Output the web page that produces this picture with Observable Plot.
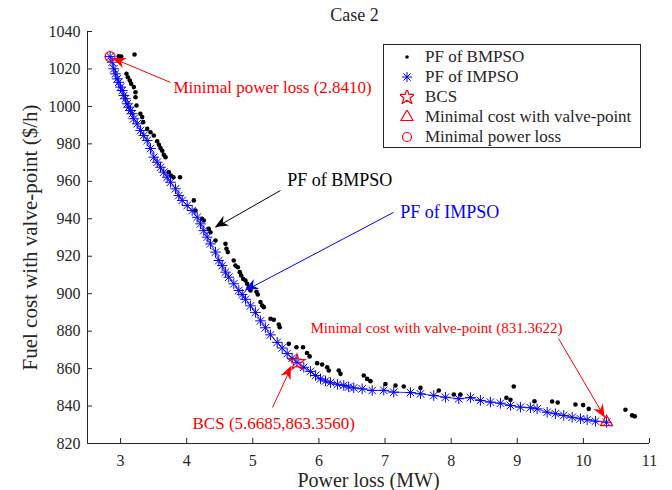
<!DOCTYPE html>
<html>
<head>
<meta charset="utf-8">
<script src="https://cdn.jsdelivr.net/npm/d3@7"></script>
<script src="https://cdn.jsdelivr.net/npm/@observablehq/plot@0.6"></script>
<style>
  html, body { margin: 0; padding: 0; background: #fff; }
  #chart { position: relative; width: 672px; height: 490px; font-family: "Liberation Serif", "Times New Roman", serif; color: #262626; }
  #legend { position: absolute; left: 383px; top: 44px; width: 258px; height: 104px; box-sizing: border-box;
            border: 1px solid #262626; background: #fff; padding-top: 2px; }
  #legend .row { display: flex; align-items: center; height: 20px; font-size: 17px; }
  #legend svg { margin-left: 16px; margin-right: 11px; }
</style>
</head>
<body>
<div id="chart"></div>
<script>
// Pareto front of IMPSO: power loss (MW), fuel cost with valve-point ($/h)
const impsoLoss = [2.841,2.873,2.898,2.923,2.949,2.973,2.999,3.025,3.049,3.075,3.100,3.125,3.150,3.176,3.200,3.251,3.302,3.351,3.403,3.453,3.503,3.554,3.604,3.654,3.705,3.755,3.831,3.881,3.932,4.008,4.083,4.159,4.209,4.259,4.310,4.360,4.436,4.486,4.537,4.587,4.637,4.713,4.788,4.840,
  4.889,4.965,5.040,5.116,5.190,5.267,5.369,5.444,5.520,5.595,5.6685,5.771,5.872,5.950,6.024,6.100,6.175,6.280,6.376,6.450,6.527,6.654,6.806,6.981,7.132,7.385,
  7.536,7.737,7.914,8.115,8.292,8.443,8.594,8.746,8.897,9.048,9.199,9.300,9.452,9.577,9.703,9.830,9.956,10.057,10.183,10.35];
const impsoCost = [1026.6,1023.6,1020.1,1017.4,1014.7,1012.9,1010.3,1008.5,1005.8,1004.1,1001.4,999.6,997.8,996.1,993.4,990.7,987.1,984.5,981.8,977.5,972.9,970.2,967.5,964.9,962.2,959.5,956.0,952.4,949.8,947.1,944.4,940.8,937.3,933.7,930.2,926.6,922.2,917.7,915.0,911.5,908.8,905.3,901.7,899.6,
  897.0,893.5,890.0,885.5,881.8,878.0,874.0,871.0,868.0,865.5,863.356,860.7,858.5,856.3,854.5,853.4,852.5,851.6,851.0,850.2,849.7,849.2,848.3,848.4,847.4,847.2,
  846.5,845.6,844.7,843.9,844.5,843.0,842.1,841.5,840.3,839.4,839.1,838.5,836.7,835.9,835.0,834.0,833.2,832.7,831.9,831.3622];

// Pareto front of BMPSO
const bmpsoLoss = [2.973,3.010,3.211,3.090,3.110,3.140,3.160,3.200,3.226,3.226,3.241,3.300,3.327,3.342,3.403,3.453,3.503,3.554,3.580,3.604,3.630,3.654,3.680,3.729,3.760,3.800,3.900,4.108,4.133,4.235,4.259,4.334,4.360,4.436,4.587,4.602,4.622,4.712,4.738,4.773,4.803,4.824,4.855,4.889,4.915,4.939,4.965,5.056,5.075,5.116,5.142,5.167,5.268,5.318,5.393,5.408,5.544,5.660,5.760,5.820,5.860,5.974,6.049,6.125,6.149,6.300,6.326,6.678,6.729,6.780,7.006,7.158,7.283,7.536,7.813,8.040,8.140,8.836,8.897,8.947,9.260,9.527,9.612,9.880,9.996,10.081,10.636,10.737,10.777];
const bmpsoCost = [1026.8,1026.6,1027.7,1017.4,1015.6,1013.8,1012.1,1010.3,1007.6,1004.9,1000.5,996.1,994.3,991.6,988.0,986.2,984.5,981.4,979.5,977.8,976.3,974.2,972.9,964.9,963.1,962.2,962.2,949.8,944.4,940.0,939.1,934.6,932.8,928.4,926.6,924.0,922.2,917.7,915.0,914.1,911.5,909.7,907.9,907.0,905.3,903.5,901.7,901.0,899.6,895.5,893.7,892.8,886.6,886.1,883.5,882.1,873.2,871.4,871.4,868.3,866.5,862.9,862.2,860.7,859.0,859.0,857.2,856.3,854.5,853.3,851.8,851.0,850.4,849.7,848.3,846.2,846.2,844.4,843.3,850.4,842.6,842.4,841.9,840.8,840.5,838.5,838.0,835.0,834.5];

// Selected solutions
const bcsPoint = [5.6685, 863.3560];
const minCostPoint = [10.35, 831.3622];
const minLossPoint = [2.8410, 1026.6];

// Axis ticks and labels
const xTicks = [3, 4, 5, 6, 7, 8, 9, 10, 11];
const yTicks = [820, 840, 860, 880, 900, 920, 940, 960, 980, 1000, 1020, 1040];
const titleText = "Case 2";
const xLabel = "Power loss (MW)";
const yLabel = "Fuel cost with valve-point ($/h)";

// Annotations: label anchor (left edge) and arrow from tail to tip
const noteText = ["Minimal power loss (2.8410)", "PF of BMPSO", "PF of IMPSO", "Minimal cost with valve-point (831.3622)", "BCS (5.6685,863.3560)"];
const noteX = [3.80, 5.52, 7.23, 5.872, 4.088];
const noteY = [1010.1, 960.4, 943.4, 881.4, 830.7];
const noteSize = [17, 18, 18, 15, 17];
const noteColor = ["#ff0000", "#000000", "#0000ff", "#ff0000", "#ff0000"];
const arrowX1 = [3.755, 5.419, 7.128, 9.623, 5.298];
const arrowY1 = [1012.8, 955.1, 943.4, 876.1, 839.2];
const arrowX2 = [2.89, 4.436, 4.889, 10.33, 5.585];
const arrowY2 = [1025.6, 935.3, 901.7, 833.6, 861.1];

// Legend
const legendLabels = ["PF of BMPSO", "PF of IMPSO", "BCS", "Minimal cost with valve-point", "Minimal power loss"];

const impso = impsoLoss.map((x, i) => ({x, y: impsoCost[i]}));
const bmpso = bmpsoLoss.map((x, i) => ({x, y: bmpsoCost[i]}));
const notes = noteText.map((t, i) => ({t, x: noteX[i], y: noteY[i], size: noteSize[i], color: noteColor[i]}));
const arrows = arrowX1.map((x1, i) => ({x1, y1: arrowY1[i], x2: arrowX2[i], y2: arrowY2[i], color: noteColor[i]}));

const W = 672, H = 490, mL = 87, mR = 23, mT = 31, mB = 47;
const plotW = W - mL - mR, plotH = H - mT - mB, tick = 5;
const axisColor = "#262626";

// Filled arrowheads, placed with the plot's own scales
function arrowHeads(index, scales) {
  const g = d3.create("svg:g");
  for (const a of arrows) {
    const x1 = scales.x(a.x1), y1 = scales.y(a.y1), x2 = scales.x(a.x2), y2 = scales.y(a.y2);
    const ang = Math.atan2(y2 - y1, x2 - x1), c = Math.cos(ang), s = Math.sin(ang);
    const pts = [[0, 0], [-13, -5.5], [-9, 0], [-13, 5.5]]
      .map(([u, v]) => [x2 + u * c - v * s, y2 + u * s + v * c]);
    g.append("path").attr("d", "M" + pts.map(p => p.join(",")).join("L") + "Z").attr("fill", a.color);
  }
  return g.node();
}

const chart = Plot.plot({
  width: W, height: H,
  marginLeft: mL, marginRight: mR, marginTop: mT, marginBottom: mB,
  style: {fontFamily: "'Liberation Serif', 'Times New Roman', serif", fontSize: "16px", color: axisColor, background: "#fff", overflow: "visible"},
  x: {domain: [2.5, 11]},
  y: {domain: [820, 1040]},
  marks: [
    // axes with inward ticks
    Plot.ruleX(xTicks, {stroke: axisColor, insetTop: plotH - tick}),
    Plot.ruleY(yTicks, {stroke: axisColor, insetRight: plotW - tick}),
    Plot.ruleX([2.5], {stroke: axisColor}),
    Plot.ruleY([820], {stroke: axisColor}),
    Plot.axisX({ticks: xTicks, tickSize: 0, tickPadding: 11, label: null, tickFormat: d => String(d), fill: axisColor}),
    Plot.axisY({ticks: yTicks, tickSize: 0, tickPadding: 7, label: null, tickFormat: d => String(d), fill: axisColor}),
    Plot.text([xLabel], {frameAnchor: "bottom", dy: 37, lineAnchor: "middle", fontSize: 20, fill: axisColor}),
    Plot.text([yLabel], {frameAnchor: "left", dx: -57, rotate: -90, textAnchor: "middle", lineAnchor: "middle", fontSize: 21, fill: axisColor}),
    Plot.text([titleText], {frameAnchor: "top", dx: -14, dy: -16, lineAnchor: "middle", fontSize: 18, fill: axisColor}),
    // fronts
    Plot.dot(bmpso, {x: "x", y: "y", r: 2.3, fill: "#000", stroke: "none"}),
    Plot.line(impso, {x: "x", y: "y", stroke: "#0000ff", strokeWidth: 0.8}),
    Plot.dot(impso, {x: "x", y: "y", symbol: "plus", r: 3.5, stroke: "#0000ff", strokeWidth: 1}),
    Plot.dot(impso, {x: "x", y: "y", symbol: "times", r: 3.5, stroke: "#0000ff", strokeWidth: 1}),
    // selected solutions
    Plot.dot([bcsPoint], {x: d => d[0], y: d => d[1], symbol: "star", r: 5, stroke: "#ff0000", fill: "none", strokeWidth: 1.2}),
    Plot.dot([minCostPoint], {x: d => d[0], y: d => d[1], symbol: "triangle", r: 4.5, stroke: "#ff0000", fill: "none", strokeWidth: 1.2}),
    Plot.dot([minLossPoint], {x: d => d[0], y: d => d[1], symbol: "circle", r: 5, stroke: "#ff0000", fill: "none", strokeWidth: 1.2}),
    // annotations
    Plot.link(arrows, {x1: "x1", y1: "y1", x2: "x2", y2: "y2", stroke: "color", strokeWidth: 1}),
    arrowHeads,
    Plot.text(notes, {x: "x", y: "y", text: "t", fill: "color", fontSize: "size", textAnchor: "start", lineAnchor: "middle"})
  ]
});

const root = document.getElementById("chart");
root.appendChild(chart);

// Legend box
const legend = d3.select(root).append("div").attr("id", "legend");
const legendSymbols = [
  g => g.append("circle").attr("r", 1.8).attr("fill", "#000"),
  g => g.append("path").attr("d", d3.symbol(d3.symbolPlus, 36)()).attr("stroke", "#0000ff").attr("fill", "none")
        .clone().attr("d", d3.symbol(d3.symbolTimes, 36)()),
  g => g.append("path").attr("d", d3.symbol(d3.symbolStar, 78)()).attr("stroke", "#ff0000").attr("stroke-width", 1.2).attr("fill", "none"),
  g => g.append("path").attr("d", d3.symbol(d3.symbolTriangle, 64)()).attr("stroke", "#ff0000").attr("stroke-width", 1.2).attr("fill", "none"),
  g => g.append("circle").attr("r", 4.5).attr("stroke", "#ff0000").attr("stroke-width", 1.2).attr("fill", "none")
];
legendLabels.forEach((label, i) => {
  const row = legend.append("div").attr("class", "row");
  const svg = row.append("svg").attr("width", 14).attr("height", 14);
  legendSymbols[i](svg.append("g").attr("transform", "translate(7,7)"));
  row.append("span").text(label);
});
</script>
</body>
</html>
